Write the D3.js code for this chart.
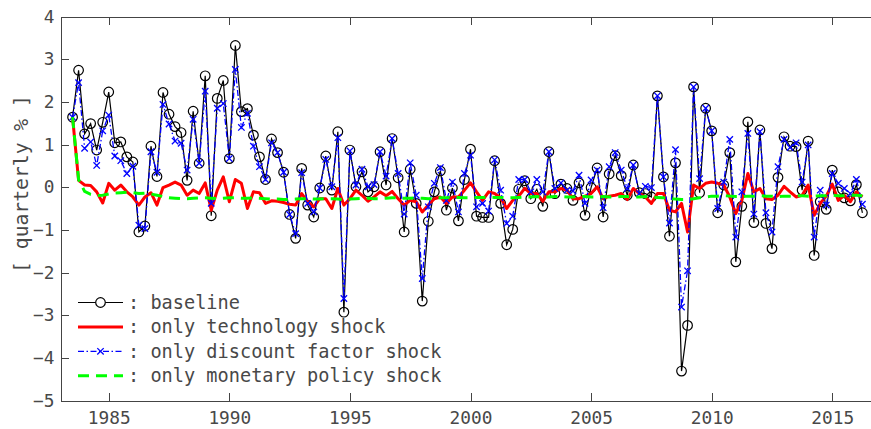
<!DOCTYPE html>
<html>
<head>
<meta charset="utf-8">
<script src="https://cdn.jsdelivr.net/npm/d3@7"></script>
<style>
  html, body { margin: 0; padding: 0; background: #fff; }
  svg { display: block; }
  .axis text { font-family: "DejaVu Sans Mono", monospace; font-size: 17.8px; fill: #484848; }
  .axis path, .axis line { stroke: #444; stroke-width: 1; shape-rendering: crispEdges; }
</style>
</head>
<body>
<svg id="chart" width="871" height="429"></svg>
<script>
// Quarterly series, first observation 1983Q3, one value per quarter.
const startYear = 1983.5;

// baseline
const baseline = [
  1.64, 2.74, 1.25, 1.49, 0.87, 1.52, 2.23, 1.04, 1.06, 0.71,
  0.59, -1.05, -0.91, 0.96, 0.25, 2.22, 1.71, 1.42, 1.28, 0.16,
  1.78, 0.56, 2.61, -0.67, 2.08, 2.50, 0.67, 3.32, 1.77, 1.84,
  1.22, 0.71, 0.18, 1.13, 0.81, 0.35, -0.64, -1.20, 0.44, -0.42,
  -0.70, -0.02, 0.73, -0.07, 1.30, -2.93, 0.87, 0.01, 0.36, -0.11,
  0.01, 0.83, 0.05, 1.14, 0.22, -1.05, 0.42, -0.38, -2.67, -0.80,
  -0.11, 0.38, -0.54, -0.02, -0.79, 0.18, 0.89, -0.68, -0.71, -0.71,
  0.62, -0.38, -1.35, -0.99, -0.05, 0.15, -0.27, -0.05, -0.45, 0.83,
  -0.15, 0.07, -0.03, -0.31, 0.10, -0.66, -0.01, 0.45, -0.70, 0.31,
  0.74, 0.27, -0.19, 0.52, -0.13, -0.15, -0.23, 2.14, 0.24, -1.15,
  0.57, -4.31, -3.24, 2.35, -0.13, 1.85, 1.32, -0.60, 0.05, 0.81,
  -1.75, -0.45, 1.53, -0.83, 1.34, -0.85, -1.44, 0.23, 1.18, 0.96,
  0.95, -0.07, 1.08, -1.60, -0.34, -0.52, 0.40, -0.11, -0.25, -0.32,
  0.06, -0.60
];

// only technology shock
const technology = [
  1.64, 0.16, 0.05, 0.04, -0.11, -0.37, 0.09, -0.07, 0.05, -0.11,
  -0.23, -0.42, -0.23, -0.13, -0.42, -0.01, 0.05, 0.12, 0.05, -0.19,
  -0.07, -0.15, 0.10, -0.54, -0.07, 0.24, -0.34, 0.18, 0.09, -0.50,
  -0.11, -0.13, -0.38, -0.32, -0.33, -0.36, -0.40, -0.42, -0.15, -0.34,
  -0.46, -0.27, -0.27, -0.50, -0.03, -0.42, -0.27, -0.07, -0.19, -0.33,
  -0.23, -0.11, -0.20, -0.10, -0.27, -0.42, -0.31, -0.34, -0.58, -0.42,
  -0.27, -0.23, -0.38, -0.23, -0.23, -0.07, 0.10, -0.11, -0.31, -0.11,
  -0.15, -0.25, -0.50, -0.31, -0.21, -0.03, -0.15, -0.15, -0.33, -0.11,
  -0.11, -0.03, -0.07, -0.27, -0.27, -0.21, -0.15, 0.01, -0.27, -0.21,
  -0.19, -0.15, -0.29, -0.03, -0.15, -0.23, -0.38, -0.15, -0.15, -0.54,
  -0.58, -0.38, -1.05, 0.05, -0.03, 0.09, 0.12, 0.09, 0.05, -0.23,
  -0.62, -0.31, 0.32, -0.11, -0.03, -0.27, -0.29, -0.19, 0.02, -0.11,
  -0.23, -0.19, 0.05, -0.66, -0.38, -0.21, 0.07, -0.31, -0.19, -0.34,
  -0.11, -0.23
];

// only discount factor shock
const discount = [
  1.64, 2.45, 0.91, 1.06, 0.51, 1.32, 1.69, 0.73, 0.62, 0.32,
  0.49, -0.89, -0.97, 0.83, 0.35, 1.94, 1.48, 1.08, 1.03, 0.40,
  1.59, 0.56, 2.25, -0.38, 1.85, 1.96, 0.67, 2.76, 1.40, 1.73,
  0.96, 0.48, 0.18, 1.04, 0.81, 0.35, -0.64, -1.09, 0.34, -0.38,
  -0.58, -0.02, 0.65, 0.01, 1.16, -2.61, 0.85, 0.05, 0.42, 0.01,
  0.06, 0.83, 0.26, 1.14, 0.32, -0.63, 0.57, -0.19, -2.14, -0.46,
  0.09, 0.46, -0.31, 0.12, -0.58, 0.32, 0.75, -0.46, -0.38, -0.56,
  0.64, -0.07, -0.85, -0.68, 0.18, 0.18, -0.11, 0.18, -0.11, 0.83,
  -0.03, 0.10, -0.07, -0.09, 0.28, -0.38, 0.17, 0.40, -0.48, 0.48,
  0.81, 0.40, -0.03, 0.52, -0.15, 0.02, -0.01, 2.14, 0.24, -0.84,
  0.88, -2.81, -1.96, 2.35, 0.20, 1.85, 1.32, -0.50, 0.12, 1.12,
  -1.17, -0.11, 1.26, -0.63, 1.30, -0.60, -1.05, 0.48, 1.12, 0.93,
  1.04, 0.12, 0.99, -1.17, -0.07, -0.42, 0.32, 0.09, -0.03, -0.15,
  0.18, -0.40
];

// only monetary policy shock
const monetary = [
  1.64, 0.18, -0.10, -0.17, -0.20, -0.19, -0.16, -0.14, -0.13, -0.12,
  -0.13, -0.15, -0.14, -0.16, -0.19, -0.22, -0.25, -0.26, -0.27, -0.27,
  -0.26, -0.25, -0.25, -0.26, -0.27, -0.26, -0.25, -0.25, -0.26, -0.26,
  -0.25, -0.26, -0.27, -0.28, -0.28, -0.29, -0.29, -0.28, -0.27, -0.27,
  -0.28, -0.28, -0.27, -0.27, -0.28, -0.29, -0.28, -0.27, -0.26, -0.26,
  -0.27, -0.27, -0.26, -0.25, -0.25, -0.26, -0.26, -0.25, -0.26, -0.27,
  -0.26, -0.25, -0.25, -0.24, -0.24, -0.25, -0.25, -0.24, -0.24, -0.23,
  -0.24, -0.24, -0.25, -0.25, -0.24, -0.23, -0.23, -0.22, -0.23, -0.23,
  -0.22, -0.22, -0.23, -0.23, -0.22, -0.22, -0.23, -0.23, -0.22, -0.23,
  -0.23, -0.22, -0.22, -0.23, -0.23, -0.22, -0.23, -0.24, -0.25, -0.26,
  -0.28, -0.29, -0.29, -0.27, -0.25, -0.23, -0.21, -0.21, -0.20, -0.21,
  -0.22, -0.22, -0.21, -0.21, -0.20, -0.21, -0.21, -0.22, -0.21, -0.21,
  -0.20, -0.20, -0.21, -0.21, -0.20, -0.20, -0.19, -0.20, -0.20, -0.19,
  -0.19, -0.20
];

const xTickYears = [1985, 1990, 1995, 2000, 2005, 2010, 2015];
const yTickValues = [-5, -4, -3, -2, -1, 0, 1, 2, 3, 4];
const yAxisLabel = "[ quarterly % ]";
const legendLabels = [
  ": baseline",
  ": only technology shock",
  ": only discount factor shock",
  ": only monetary policy shock"
];

const svg = d3.select("#chart");

const x = d3.scaleLinear().domain([1983, 2017]).range([60.5, 880.5]);
const y = d3.scaleLinear().domain([-5, 4]).range([400.5, 16.5]);

const t = i => startYear + i * 0.25;

// axes (ticks pointing inward, box on top)
svg.append("g").attr("class", "axis")
  .attr("transform", "translate(0,400.5)")
  .call(d3.axisBottom(x).tickValues(xTickYears).tickFormat(d3.format("d"))
    .tickSize(-8).tickSizeOuter(0).tickPadding(11.2));

svg.append("g").attr("class", "axis")
  .attr("transform", "translate(0,16.5)")
  .call(d3.axisTop(x).tickValues(xTickYears).tickFormat("")
    .tickSize(-8).tickSizeOuter(0));

svg.append("g").attr("class", "axis")
  .attr("transform", "translate(60.5,0)")
  .call(d3.axisLeft(y).tickValues(yTickValues).tickFormat(d3.format("d"))
    .tickSize(-8).tickSizeOuter(0).tickPadding(6));

svg.append("text")
  .attr("transform", "translate(21,184) rotate(-90)")
  .attr("text-anchor", "middle")
  .attr("dominant-baseline", "central")
  .style("font-family", "'DejaVu Sans Mono', monospace")
  .style("font-size", "19.7px")
  .style("fill", "#484848")
  .text(yAxisLabel);

const plot = svg.append("g");

const line = d3.line().x((d, i) => x(t(i))).y(d => y(d));

// baseline: black line with open circles
plot.append("path").datum(baseline)
  .attr("d", line).attr("fill", "none")
  .attr("stroke", "#000").attr("stroke-width", 1.2);
plot.selectAll("circle.base").data(baseline).join("circle")
  .attr("class", "base")
  .attr("cx", (d, i) => x(t(i))).attr("cy", d => y(d))
  .attr("r", 4.8).attr("fill", "none")
  .attr("stroke", "#000").attr("stroke-width", 1.2);

// technology shock: thick red
plot.append("path").datum(technology)
  .attr("d", line).attr("fill", "none")
  .attr("stroke", "#ff0000").attr("stroke-width", 3)
  .attr("stroke-linejoin", "round");

// discount factor shock: blue dash-dot with x markers
plot.append("path").datum(discount)
  .attr("d", line).attr("fill", "none")
  .attr("stroke", "#0000ff").attr("stroke-width", 1.3)
  .attr("stroke-dasharray", "6,2.5,1.5,2.5");
const xMark = (cx, cy, s) =>
  `M${cx - s},${cy - s}L${cx + s},${cy + s}M${cx - s},${cy + s}L${cx + s},${cy - s}`;
plot.selectAll("path.xm").data(discount).join("path")
  .attr("class", "xm")
  .attr("d", (d, i) => xMark(x(t(i)), y(d), 3.2))
  .attr("stroke", "#0000ff").attr("stroke-width", 1.3);

// monetary policy shock: thick green dashes
plot.append("path").datum(monetary)
  .attr("d", line).attr("fill", "none")
  .attr("stroke", "#00ff00").attr("stroke-width", 3)
  .attr("stroke-dasharray", "11,7");

// legend
const lg = svg.append("g");
const rowY = i => 302.5 + i * 24.4;
const sx0 = 78, sx1 = 123, sxm = 100.5;
const styles = [
  { stroke: "#000", w: 1.2, dash: null },
  { stroke: "#ff0000", w: 3, dash: null },
  { stroke: "#0000ff", w: 1.3, dash: "6,2.5,1.5,2.5" },
  { stroke: "#00ff00", w: 3, dash: "11,7" }
];
legendLabels.forEach((lab, i) => {
  const st = styles[i];
  lg.append("line")
    .attr("x1", sx0).attr("x2", sx1).attr("y1", rowY(i)).attr("y2", rowY(i))
    .attr("stroke", st.stroke).attr("stroke-width", st.w)
    .attr("stroke-dasharray", st.dash);
  if (i === 0) {
    lg.append("circle").attr("cx", sxm).attr("cy", rowY(i)).attr("r", 4.8)
      .attr("fill", "#fff").attr("stroke", "#000").attr("stroke-width", 1.2);
  }
  if (i === 2) {
    lg.append("path").attr("d", xMark(sxm, rowY(i), 3.2))
      .attr("stroke", "#0000ff").attr("stroke-width", 1.3);
  }
  lg.append("text")
    .attr("x", 128).attr("y", rowY(i)).attr("dy", "0.35em")
    .style("font-family", "'DejaVu Sans Mono', monospace")
    .style("font-size", "18.6px")
    .style("fill", "#484848")
    .style("white-space", "pre")
    .text(lab);
});
</script>
</body>
</html>
